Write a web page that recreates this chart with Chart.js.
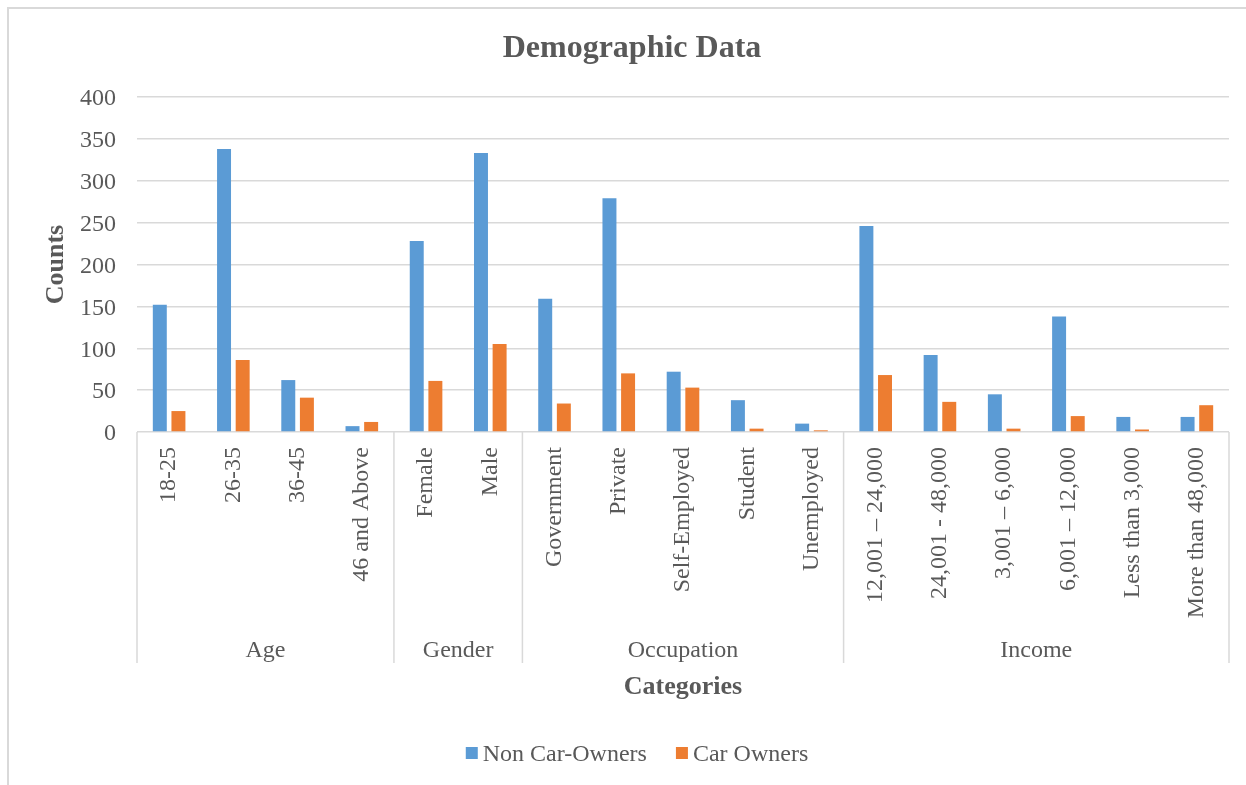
<!DOCTYPE html>
<html>
<head>
<meta charset="utf-8">
<title>Demographic Data</title>
<script src="https://cdn.jsdelivr.net/npm/chart.js@4/dist/chart.umd.min.js"></script>
<style>
  html, body { margin: 0; padding: 0; background: #fff; }
  #wrap { position: relative; width: 1246px; height: 785px; }
  canvas { display: block; }
</style>
</head>
<body>
<div id="wrap"><canvas id="chart" width="1246" height="785"></canvas></div>
<script>
// Category labels (inner level) and their groups (outer level)
const categories = [
  '18-25', '26-35', '36-45', '46 and Above',
  'Female', 'Male',
  'Government', 'Private', 'Self-Employed', 'Student', 'Unemployed',
  '12,001 \u2013 24,000', '24,001 - 48,000', '3,001 \u2013 6,000', '6,001 \u2013 12,000', 'Less than 3,000', 'More than 48,000'
];
const groupNames = ['Age', 'Gender', 'Occupation', 'Income'];
const groupSizes = [4, 2, 5, 6];

// Series values
const nonCarOwners = [152, 338, 62, 7, 228, 333, 159, 279, 72, 38, 10, 246, 92, 45, 138, 18, 18];
const carOwners = [25, 86, 41, 12, 61, 105, 34, 70, 53, 4, 2, 68, 36, 4, 19, 3, 32];

// Value axis ticks
const yTicks = [0, 50, 100, 150, 200, 250, 300, 350, 400];

const seriesNames = ['Non Car-Owners', 'Car Owners'];
const seriesColors = ['#5B9BD5', '#ED7D31'];

const FONT = '"Liberation Serif", "Times New Roman", serif';
const TEXT = '#595959';
const GRID = '#d9d9d9';

const decor = {
  id: 'decor',
  beforeDraw(chart) {
    const ctx = chart.ctx;
    ctx.save();
    ctx.fillStyle = '#fff';
    ctx.fillRect(0, 0, chart.width, chart.height);
    // chart frame (top and left edges)
    ctx.strokeStyle = GRID;
    ctx.lineWidth = 2;
    ctx.beginPath();
    ctx.moveTo(8, chart.height);
    ctx.lineTo(8, 8);
    ctx.lineTo(chart.width, 8);
    ctx.stroke();
    ctx.restore();
  },
  afterDraw(chart) {
    const ctx = chart.ctx;
    const area = chart.chartArea;
    const xs = chart.scales.x;
    const step = xs.width / categories.length;
    ctx.save();

    // group separators and outer-level labels
    const sepBottom = area.bottom + 231;
    ctx.strokeStyle = GRID;
    ctx.lineWidth = 1.5;
    let start = 0;
    const edges = [xs.getPixelForValue(0) - step / 2];
    groupSizes.forEach(n => {
      start += n;
      edges.push(xs.getPixelForValue(start - 1) + step / 2);
    });
    edges.forEach(px => {
      ctx.beginPath();
      ctx.moveTo(px, area.bottom);
      ctx.lineTo(px, sepBottom);
      ctx.stroke();
    });
    ctx.fillStyle = TEXT;
    ctx.font = '24px ' + FONT;
    ctx.textAlign = 'center';
    ctx.textBaseline = 'middle';
    groupNames.forEach((g, i) => {
      ctx.fillText(g, (edges[i] + edges[i + 1]) / 2, area.bottom + 219);
    });

    // axis titles
    ctx.font = 'bold 26px ' + FONT;
    ctx.fillText('Categories', (area.left + area.right) / 2, area.bottom + 255);
    ctx.save();
    ctx.translate(56, (area.top + area.bottom) / 2);
    ctx.rotate(-Math.PI / 2);
    ctx.fillText('Counts', 0, 0);
    ctx.restore();

    // chart title
    ctx.font = 'bold 32px ' + FONT;
    ctx.fillText('Demographic Data', 632, 49);

    // legend
    ctx.font = '24px ' + FONT;
    ctx.textAlign = 'left';
    const box = 12, gapText = 5, gapItem = 29;
    const widths = chart.data.datasets.map(d => ctx.measureText(d.label).width);
    let total = 0;
    widths.forEach((w, i) => { total += box + gapText + w + (i ? gapItem : 0); });
    let lx = 637 - total / 2;
    const ly = 755;
    chart.data.datasets.forEach((d, i) => {
      ctx.fillStyle = d.backgroundColor;
      ctx.fillRect(lx, ly - 8, box, box);
      ctx.fillStyle = TEXT;
      ctx.fillText(d.label, lx + box + gapText, ly);
      lx += box + gapText + widths[i] + gapItem;
    });

    ctx.restore();
  }
};

new Chart(document.getElementById('chart'), {
  type: 'bar',
  data: {
    labels: categories,
    datasets: [
      { label: seriesNames[0], data: nonCarOwners, backgroundColor: seriesColors[0] },
      { label: seriesNames[1], data: carOwners, backgroundColor: seriesColors[1] }
    ]
  },
  options: {
    responsive: false,
    animation: false,
    devicePixelRatio: 1,
    layout: { padding: { top: 97, right: 17, left: 0, bottom: 0 } },
    datasets: { bar: { categoryPercentage: 0.58, barPercentage: 0.75 } },
    plugins: {
      legend: { display: false },
      title: { display: false },
      tooltip: { enabled: false }
    },
    scales: {
      x: {
        grid: { display: false, drawTicks: false },
        border: { display: false },
        ticks: {
          autoSkip: false,
          maxRotation: 90,
          minRotation: 90,
          padding: 15,
          color: TEXT,
          font: { family: FONT, size: 24 }
        },
        afterFit(scale) { scale.height = 785 - 432; }
      },
      y: {
        min: yTicks[0],
        max: yTicks[yTicks.length - 1],
        afterBuildTicks(scale) { scale.ticks = yTicks.map(v => ({ value: v })); },
        grid: { color: GRID, lineWidth: 1.5, drawTicks: false },
        border: { display: false },
        ticks: {
          padding: 21,
          labelOffset: 2,
          color: TEXT,
          font: { family: FONT, size: 24 }
        },
        afterFit(scale) { scale.width = 137; }
      }
    }
  },
  plugins: [decor]
});
</script>
</body>
</html>
